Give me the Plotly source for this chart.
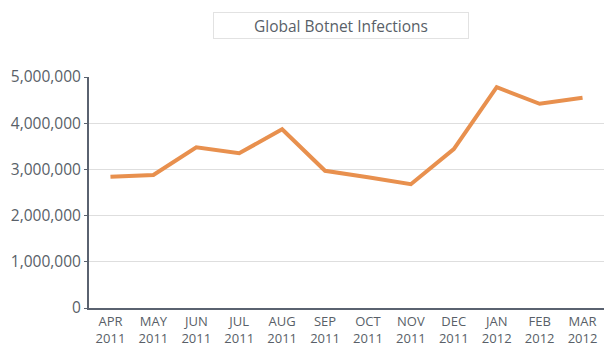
import plotly.graph_objects as go

# Monthly botnet infection counts, April 2011 - March 2012
months = ["APR", "MAY", "JUN", "JUL", "AUG", "SEP", "OCT", "NOV", "DEC", "JAN", "FEB", "MAR"]
years = ["2011", "2011", "2011", "2011", "2011", "2011", "2011", "2011", "2011", "2012", "2012", "2012"]
infections = [2840000, 2880000, 3480000, 3350000, 3870000, 2970000, 2830000, 2680000, 3440000, 4780000, 4420000, 4550000]

y_ticks = [0, 1000000, 2000000, 3000000, 4000000, 5000000]

labels = [f"{m}<br>{y}" for m, y in zip(months, years)]

fig = go.Figure(
    go.Scatter(
        x=labels,
        y=infections,
        mode="lines",
        line=dict(color="#E8904E", width=4),
        hoverinfo="x+y",
    )
)

fig.update_layout(
    width=604,
    height=346,
    margin=dict(l=89, r=0, t=77, b=38),
    paper_bgcolor="white",
    plot_bgcolor="white",
    showlegend=False,
    font=dict(family="Open Sans, sans-serif", color="#595f68"),
    annotations=[
        dict(
            text="Global Botnet Infections",
            xref="paper", yref="paper",
            x=(341 - 89) / 515, y=1 + (77 - 25.5) / 231,
            xanchor="center", yanchor="middle",
            showarrow=False,
            font=dict(size=15.5, color="#595f68"),
            bordercolor="#e2e2e2", borderwidth=1,
            borderpad=3,
            width=248, height=19,
        )
    ],
)

fig.update_xaxes(
    type="category",
    range=[-0.5, 11.5],
    automargin=False,
    showgrid=False,
    showline=True,
    linecolor="#5a6270",
    linewidth=2,
    ticks="",
    ticklabelstandoff=0,
    tickfont=dict(size=13, color="#595f68"),
)

fig.update_yaxes(
    range=[0, 5000000],
    automargin=False,
    tickvals=y_ticks,
    tickformat=",d",
    showgrid=True,
    gridcolor="#dedede",
    gridwidth=1,
    showline=True,
    linecolor="#5a6270",
    linewidth=2,
    ticks="outside",
    ticklen=3,
    tickcolor="#5a6270",
    tickfont=dict(size=15.5, color="#595f68"),
    zeroline=False,
)

fig.write_html("out.html")
